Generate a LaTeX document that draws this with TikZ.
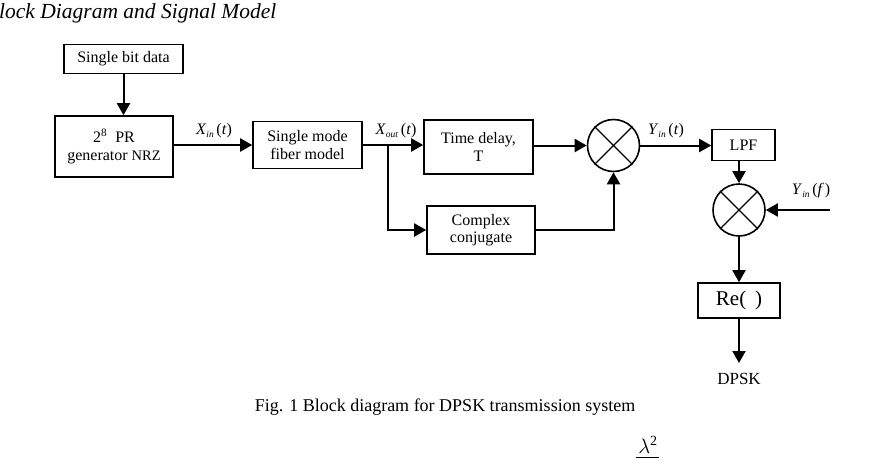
\documentclass[tikz,border=0pt]{standalone}
\usepackage{fontspec}
\setmainfont{Liberation Serif}
\usetikzlibrary{arrows.meta}
\tikzset{
  blk/.style={draw, line width=1.6pt, inner sep=0pt, align=center, font=\fontsize{16}{17.5}\selectfont},
  mult/.style={draw, circle, line width=1.6pt, minimum size=52pt, inner sep=0pt},
  conn/.style={line width=2pt, -{Triangle[length=12pt,width=13pt]}},
  lbl/.style={font=\fontsize{16}{17}\selectfont, inner sep=0pt}
}
\newcommand{\sig}[3]{\textit{#1}\raisebox{-0.35ex}{\fontsize{9.5}{10}\selectfont\textit{#2}}\,(\textit{#3})}
\begin{document}
\begin{tikzpicture}[x=1pt,y=-1pt]
\useasboundingbox (0,0) rectangle (875,466);
\node[anchor=west, inner sep=0pt, font=\fontsize{21.5}{23}\selectfont\itshape] (title) at (-1,13) {lock Diagram and Signal Model};
\node[blk, minimum width=119pt, minimum height=29pt] (sbd) at (123.5,59) {Single bit data};
\node[blk, minimum width=118pt, minimum height=61pt] (pr) at (114,146.5) {2\textsuperscript{8}\ \ PR\\[1pt]generator {\fontsize{14.5}{16}\selectfont NRZ}};
\node[blk, minimum width=109pt, minimum height=47pt] (fib) at (307.5,145) {Single mode\\fiber model};
\node[blk, minimum width=109pt, minimum height=54pt] (td) at (478.5,147) {Time delay,\\T};
\node[blk, minimum width=108pt, minimum height=48pt] (cc) at (481,230) {Complex\\conjugate};
\node[mult] (m1) at (613.5,145.5) {};
\draw[line width=1.2pt] (m1.45) -- (m1.225) (m1.135) -- (m1.315);
\node[blk, minimum width=63pt, minimum height=31pt] (lpf) at (743.5,145) {LPF};
\node[mult] (m2) at (739,210) {};
\draw[line width=1.2pt] (m2.45) -- (m2.225) (m2.135) -- (m2.315);
\node[blk, minimum width=82pt, minimum height=35pt, font=\fontsize{21}{23}\selectfont] (re) at (739,300.5) {Re(\,\ )};
\node[lbl, font=\fontsize{17}{18}\selectfont] (dpsk) at (739,379) {DPSK};
\coordinate (br) at (388,145);
\coordinate (yf) at (830,210);
\coordinate (outp) at (739,363);
% connectors
\draw[conn] (sbd) -- (sbd.south |- pr.north);
\draw[conn] (pr.east |- fib) -- (fib.west);
\draw[conn] (fib.east) -- (fib.east -| td.west);
\draw[conn] (br) |- (cc.west);
\draw[conn] (td.east |- m1) -- (m1.west);
\draw[conn] (cc.east) -| (m1.south);
\draw[conn] (m1.east) -- (m1.east -| lpf.west);
\draw[conn] (lpf.south -| m2) -- (m2.north);
\draw[conn] (yf) -- (m2.east);
\draw[conn] (m2.south) -- (re.north);
\draw[conn] (re.south) -- (outp);
% labels
\node[lbl] (lxin) at (214,131) {\sig{X}{in}{t}};
\node[lbl] (lxout) at (396,131) {\sig{X}{out}{t}};
\node[lbl] (lyin) at (666,131) {\sig{Y}{in}{t}};
\node[lbl] (lyf) at (811,191) {\sig{Y}{in}{f\,}};
\node[font=\fontsize{18}{20}\selectfont, inner sep=0pt] (cap) at (445,407) {Fig. 1 Block diagram for DPSK transmission system};
\node[font=\fontsize{20}{20}\selectfont, inner sep=0pt] (lam) at (648,445) {$\lambda$\textsuperscript{2}};
\draw[line width=0.8pt] (636,457) -- (659,457);
\end{tikzpicture}
\end{document}
